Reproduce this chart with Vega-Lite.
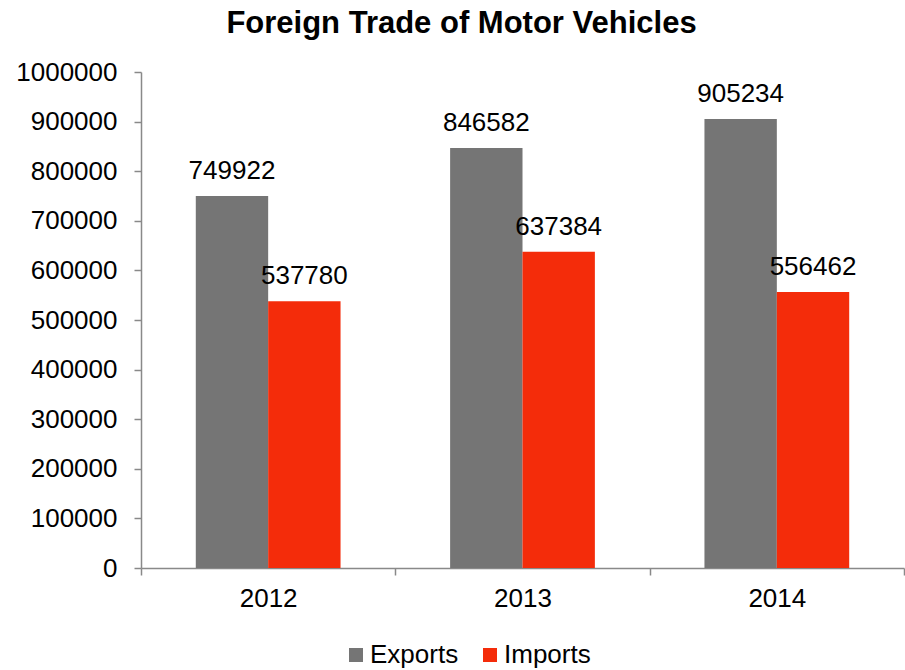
{
  "$schema": "https://vega.github.io/schema/vega-lite/v6.json",
  "width": 763,
  "height": 496,
  "autosize": "none",
  "padding": {"left": 141, "top": 72, "right": 1, "bottom": 102},
  "background": "white",
  "config": {"view": {"stroke": null}, "font": "Liberation Sans"},
  "title": {
    "text": "Foreign Trade of Motor Vehicles",
    "font": "Liberation Sans",
    "fontSize": 31,
    "fontWeight": "bold",
    "color": "black",
    "anchor": "middle",
    "dx": -61,
    "offset": 19
  },
  "data": {
    "values": [
      {"year": "2012", "series": "Exports", "value": 749922},
      {"year": "2012", "series": "Imports", "value": 537780},
      {"year": "2013", "series": "Exports", "value": 846582},
      {"year": "2013", "series": "Imports", "value": 637384},
      {"year": "2014", "series": "Exports", "value": 905234},
      {"year": "2014", "series": "Imports", "value": 556462}
    ]
  },
  "encoding": {
    "x": {
      "field": "year",
      "type": "nominal",
      "scale": {"paddingInner": 0, "paddingOuter": 0},
      "axis": {
        "title": null,
        "labelAngle": 0,
        "labelFont": "Liberation Sans",
        "labelFontSize": 26,
        "labelColor": "black",
        "labelPadding": 10,
        "domainColor": "#898989",
        "domainWidth": 1.5,
        "tickColor": "#898989",
        "tickWidth": 1.5,
        "tickSize": 7,
        "tickBand": "extent"
      }
    },
    "xOffset": {
      "field": "series",
      "type": "nominal",
      "sort": ["Exports", "Imports"],
      "scale": {"paddingInner": 0, "paddingOuter": 0.757}
    },
    "y": {
      "field": "value",
      "type": "quantitative",
      "scale": {"domain": [0, 1000000], "nice": false},
      "axis": {
        "title": null,
        "format": "d",
        "tickCount": 10,
        "grid": false,
        "labelFont": "Liberation Sans",
        "labelFontSize": 26,
        "labelColor": "black",
        "labelPadding": 17,
        "domainColor": "#898989",
        "domainWidth": 1.5,
        "tickColor": "#898989",
        "tickWidth": 1.5,
        "tickSize": 7
      }
    }
  },
  "layer": [
    {
      "mark": {"type": "bar"},
      "encoding": {
        "color": {
          "field": "series",
          "type": "nominal",
          "sort": ["Exports", "Imports"],
          "scale": {"domain": ["Exports", "Imports"], "range": ["#757575", "#F42C0A"]},
          "legend": {
            "title": null,
            "orient": "none",
            "direction": "horizontal",
            "legendX": 202,
            "legendY": 570,
            "padding": 0,
            "symbolType": "square",
            "symbolSize": 196,
            "symbolStrokeWidth": 0,
            "symbolOpacity": 1,
            "labelFont": "Liberation Sans",
            "labelFontSize": 26,
            "labelColor": "black",
            "labelOffset": 1,
            "columnPadding": 18
          }
        }
      }
    },
    {
      "mark": {
        "type": "text",
        "dy": -17,
        "baseline": "alphabetic",
        "font": "Liberation Sans",
        "fontSize": 26,
        "color": "black"
      },
      "encoding": {
        "text": {"field": "value", "type": "quantitative", "format": "d"}
      }
    }
  ]
}
